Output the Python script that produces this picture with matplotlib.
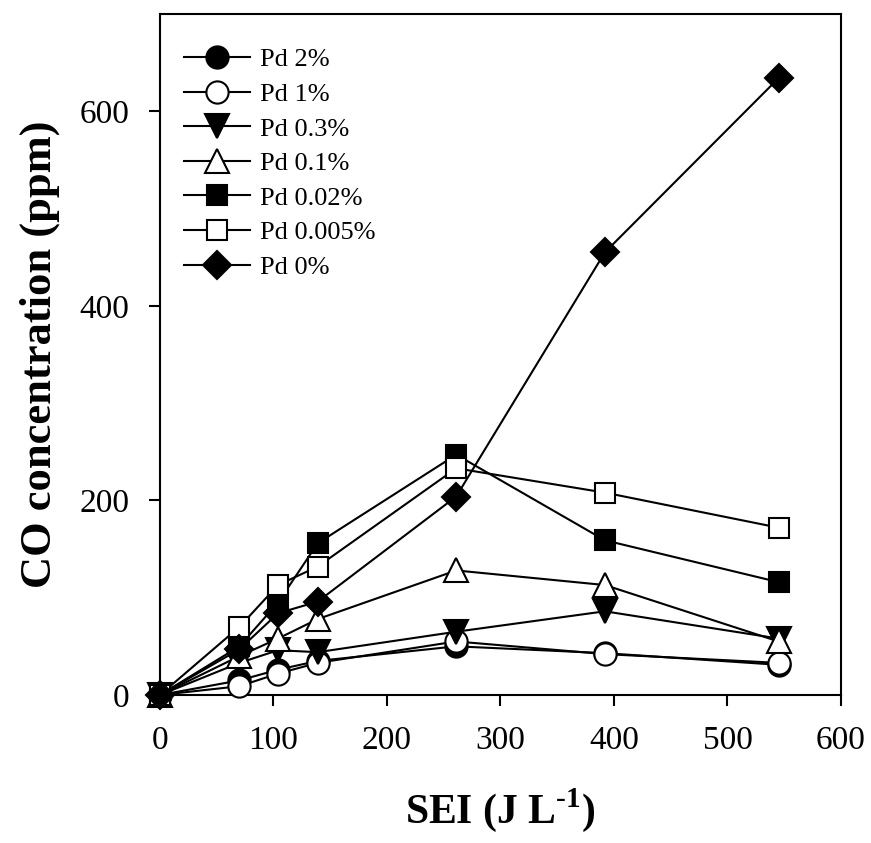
import matplotlib
matplotlib.use("Agg")
import matplotlib.pyplot as plt
from matplotlib import font_manager

# SEI (J/L) at each discharge condition
sei = [0, 70, 104, 139, 261, 392, 545]

# CO concentration (ppm) for each Pd loading
co_pd2 = [0, 15, 26, 35, 50, 43, 31]
co_pd1 = [0, 9, 22, 33, 55, 42, 33]
co_pd03 = [0, 33, 46, 44, 65, 86, 58]
co_pd01 = [0, 40, 58, 78, 128, 113, 55]
co_pd002 = [0, 50, 95, 156, 247, 159, 116]
co_pd0005 = [0, 70, 113, 132, 233, 208, 172]
co_pd0 = [0, 47, 84, 96, 204, 455, 634]

labels = ["Pd 2%", "Pd 1%", "Pd 0.3%", "Pd 0.1%", "Pd 0.02%", "Pd 0.005%", "Pd 0%"]

# pick a Times-like serif that is actually installed
names = sorted({f.name for f in font_manager.fontManager.ttflist})
serif = [n for n in names if "Liberation Serif" in n or "Times" in n]
plt.rcParams["font.family"] = "serif"
plt.rcParams["font.serif"] = serif + ["DejaVu Serif"]
plt.rcParams["mathtext.fontset"] = "custom"
plt.rcParams["mathtext.rm"] = (serif + ["DejaVu Serif"])[0]
plt.rcParams["mathtext.bf"] = (serif + ["DejaVu Serif"])[0] + ":bold"

fig = plt.figure(figsize=(8.71, 8.43), dpi=100)
ax = fig.add_axes([0.1837, 0.1756, 0.7818, 0.8078])

styles = [
    (co_pd2, "o", "black", 16),
    (co_pd1, "o", "white", 16),
    (co_pd03, "v", "black", 17),
    (co_pd01, "^", "white", 17),
    (co_pd002, "s", "black", 15),
    (co_pd0005, "s", "white", 15),
    (co_pd0, "D", "black", 14),
]
for (y, m, fc, ms), lab in zip(styles, labels):
    ax.plot(sei, y, color="black", lw=1.5, marker=m, markersize=ms,
            markerfacecolor=fc, markeredgecolor="black", markeredgewidth=1.5,
            label=lab, clip_on=False, zorder=3)

ax.set_xlim(0, 600)
ax.set_ylim(0, 700)
ax.set_xticks(range(0, 601, 100))
ax.set_yticks([0, 200, 400, 600])
ax.tick_params(direction="out", length=8, width=1.5, labelsize=24, pad=14,
               top=False, right=False)
for sp in ax.spines.values():
    sp.set_linewidth(1.5)

ax.set_xlabel("SEI (J L$^{\\text{-}\\mathbf{1}}$)", fontsize=30, fontweight="bold",
              labelpad=22)
ax.set_ylabel("CO concentration (ppm)", fontsize=32, fontweight="bold",
              labelpad=14)

ax.legend(loc="upper left", bbox_to_anchor=(0.0, 0.985), frameon=False,
          fontsize=19, handlelength=2.5, labelspacing=0.42, handletextpad=0.4)

fig.savefig("out.png", dpi=100)
